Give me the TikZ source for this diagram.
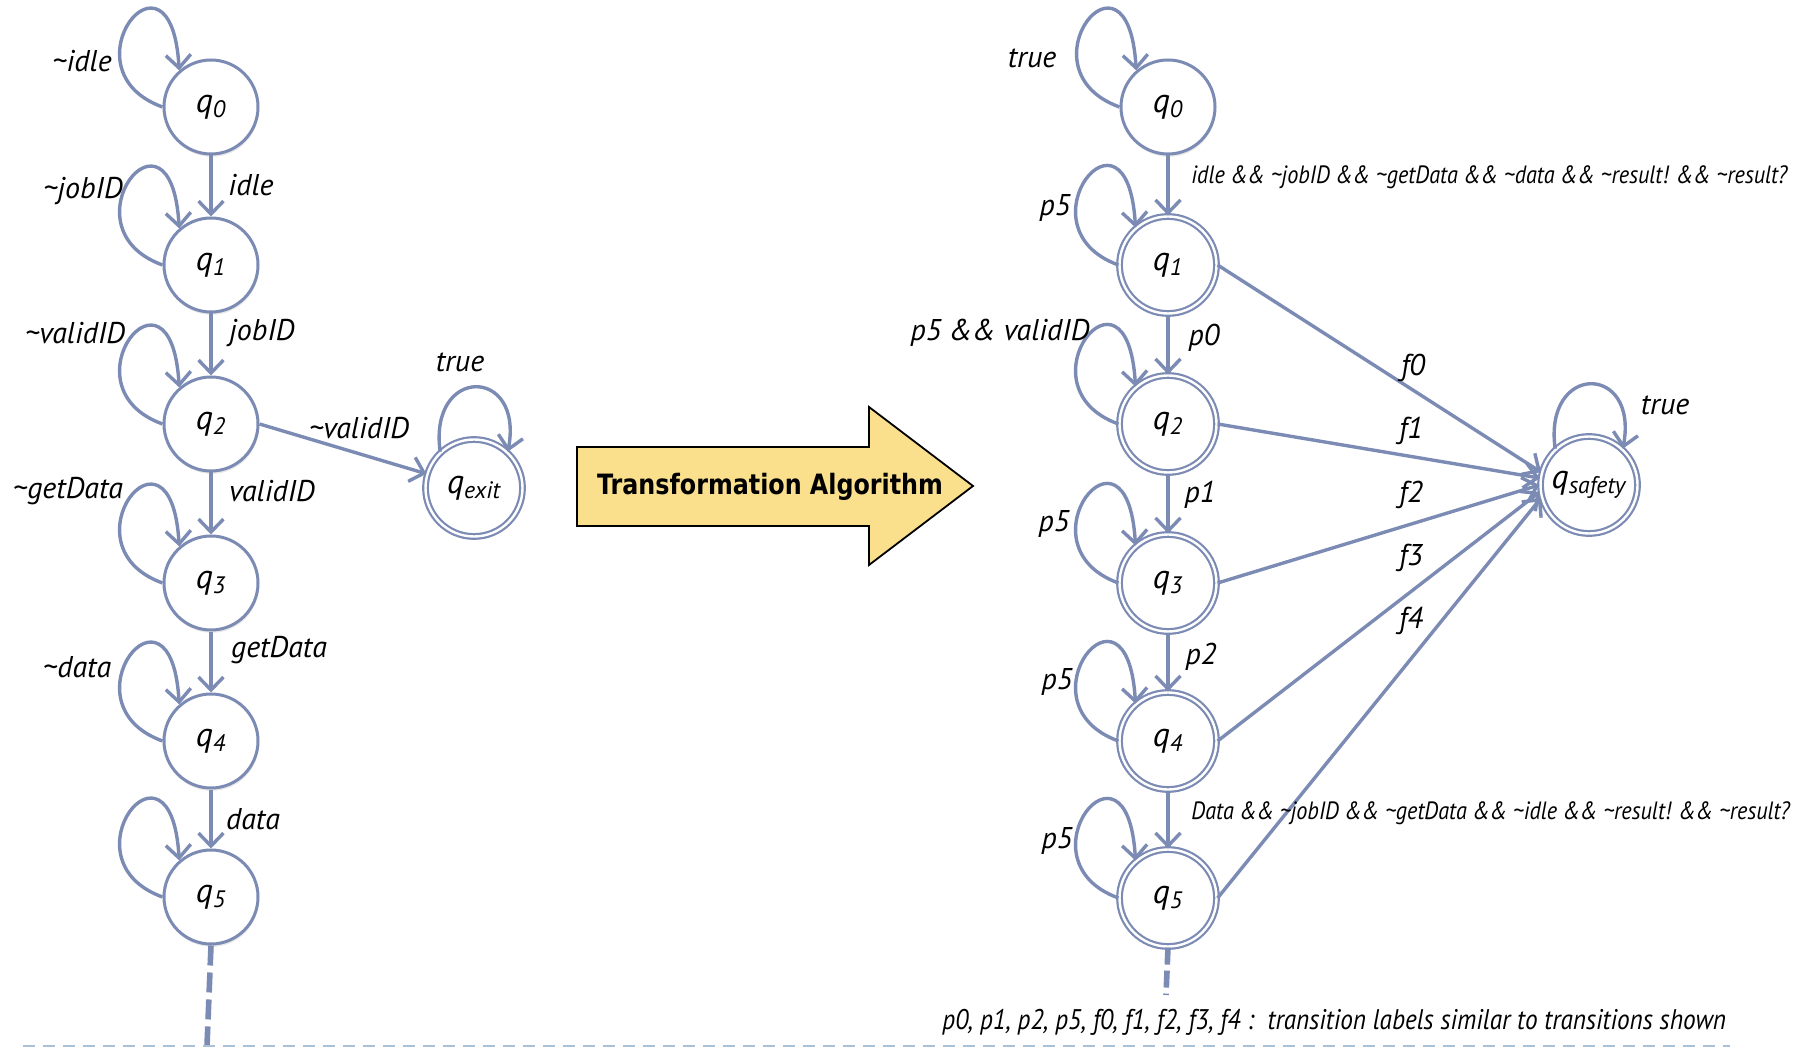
\documentclass[tikz,border=0pt]{standalone}
\usepackage{fontspec}
\setmainfont{PT Sans}
\newfontfamily\narrowfont{PT Sans}[FakeStretch=0.89]
\newfontfamily\algfont{DejaVu Sans}[FakeStretch=0.85]
\usetikzlibrary{arrows.meta,shadows}

\definecolor{edgeblue}{RGB}{124,139,180}
\definecolor{algfill}{RGB}{250,223,140}
\definecolor{rulecol}{RGB}{170,192,216}

\tikzset{
  state/.style={circle, draw=edgeblue, line width=1.5pt, fill=white,
    minimum size=47pt, inner sep=0pt, font=\fontsize{17}{19}\selectfont\itshape,
    drop shadow={opacity=0.18, shadow xshift=0.4pt, shadow yshift=-1.4pt}},
  accept/.style={state, line width=1.1pt, double=white, double distance=1.2pt,
    minimum size=48.5pt},
  edge/.style={draw=edgeblue, line width=1.7pt,
    -{Straight Barb[length=6.5pt, width=12.5pt]}},
  tail/.style={draw=edgeblue, line width=2.8pt},
  lbl/.style={font=\fontsize{15}{17}\selectfont\itshape, inner sep=0pt},
  small/.style={font=\narrowfont\fontsize{12.5}{14}\selectfont\itshape, inner sep=0pt, anchor=west},
}

% self loop on the upper left of a state
\newcommand\leftloop[1]{\draw[edge] (#1.180) .. controls +(-102,-37) and +(-8,-140) .. (#1.131);}
% self loop on top of a state
\newcommand\toploop[1]{\draw[edge] (#1.133) .. controls +(-12,-86) and +(16,-86) .. (#1.47);}

\begin{document}
\begin{tikzpicture}[x=0.5pt, y=-0.5pt]
\useasboundingbox (0,0) rectangle (1813,1052);

% ---------- original automaton ----------
\node[state] (L0) at (211,107) {q\textsubscript{0}};
\node[state] (L1) at (211,265) {q\textsubscript{1}};
\node[state] (L2) at (211,424) {q\textsubscript{2}};
\node[state] (L3) at (211,583) {q\textsubscript{3}};
\node[state] (L4) at (211,741) {q\textsubscript{4}};
\node[state] (L5) at (211,897) {q\textsubscript{5}};
\node[accept] (Lx) at (474,488) {q\textsubscript{exit}};

\foreach \n in {L0,L1,L2,L3,L4,L5} {\leftloop{\n}}
\toploop{Lx}

\draw[edge] (L0) -- (L1);
\draw[edge] (L1) -- (L2);
\draw[edge] (L2) -- (L3);
\draw[edge] (L3) -- (L4);
\draw[edge] (L4) -- (L5);
\draw[edge] (L2.east) -- (Lx);
\coordinate (Lend) at (207,1046);
\draw[tail, dash pattern=on 10pt off 3.5pt] (L5.south) -- (Lend);

\node[lbl] (l0) at (82,61) {\char`\~idle};
\node[lbl] (l1) at (251,185) {idle};
\node[lbl] (l2) at (83,191) {\char`\~jobID};
\node[lbl] (l3) at (262,333) {jobID};
\node[lbl] (l4) at (75,333) {\char`\~validID};
\node[lbl] (l5) at (359,428) {\char`\~validID};
\node[lbl] (l6) at (460,362) {true};
\node[lbl] (l7) at (272,491) {validID};
\node[lbl] (l8) at (68,491) {\char`\~getData};
\node[lbl] (l9) at (279,650) {getData};
\node[lbl] (l10) at (77,667) {\char`\~data};
\node[lbl] (l11) at (253,819) {data};

% ---------- transformation arrow ----------
\draw[fill=algfill, draw=black, line width=0.9pt]
  (577,447) -- (869,447) -- (869,407) -- (973,486) -- (869,565)
  -- (869,526) -- (577,526) -- cycle;
\node (alg) at (770,487) {\algfont\bfseries\fontsize{14}{16}\selectfont Transformation Algorithm};

% ---------- safety automaton ----------
\node[state]  (R0) at (1168,107) {q\textsubscript{0}};
\node[accept] (R1) at (1168,265) {q\textsubscript{1}};
\node[accept] (R2) at (1168,424) {q\textsubscript{2}};
\node[accept] (R3) at (1168,583) {q\textsubscript{3}};
\node[accept] (R4) at (1168,741) {q\textsubscript{4}};
\node[accept] (R5) at (1168,898) {q\textsubscript{5}};
\node[accept] (Rs) at (1589,485) {q\textsubscript{safety}};

\foreach \n in {R0,R1,R2,R3,R4,R5} {\leftloop{\n}}
\toploop{Rs}

\draw[edge] (R0) -- (R1);
\draw[edge] (R1) -- (R2);
\draw[edge] (R2) -- (R3);
\draw[edge] (R3) -- (R4);
\draw[edge] (R4) -- (R5);
\draw[edge] (R1.east) -- (Rs.165);
\draw[edge] (R2.east) -- (Rs.172);
\draw[edge] (R3.east) -- (Rs.180);
\draw[edge] (R4.east) -- (Rs.188);
\draw[edge] (R5.east) -- (Rs.195);
\coordinate (Rend) at (1166,995);
\draw[tail, dash pattern=on 8.5pt off 3pt] (R5.south) -- (Rend);

\node[lbl] (r0) at (1032,58) {true};
\node[lbl] (r1) at (1055,208) {p5};
\node[lbl] (r2) at (1000,333) {p5 \&\& validID};
\node[lbl] (r3) at (1204,338) {p0};
\node[lbl] (r4) at (1200,495) {p1};
\node[lbl] (r5) at (1054,524) {p5};
\node[lbl] (r6) at (1201,657) {p2};
\node[lbl] (r7) at (1057,682) {p5};
\node[lbl] (r8) at (1057,841) {p5};
\node[lbl] (r9) at (1665,405) {true};
\node[lbl] (f0) at (1413,368) {f0};
\node[lbl] (f1) at (1411,431) {f1};
\node[lbl] (f2) at (1411,495) {f2};
\node[lbl] (f3) at (1411,558) {f3};
\node[lbl] (f4) at (1411,621) {f4};

\node[small] (top) at (1191,177)
  {idle \&\& \char`\~jobID \&\& \char`\~getData \&\& \char`\~data \&\& \char`\~result! \&\& \char`\~result?};
\node[small] (bot) at (1191,813)
  {Data \&\& \char`\~jobID \&\& \char`\~getData \&\& \char`\~idle \&\& \char`\~result! \&\& \char`\~result?};

\node[small, font=\narrowfont\fontsize{14.2}{16}\selectfont\itshape] (note) at (942,1022)
  {p0, p1, p2, p5, f0, f1, f2, f3, f4 :\ \ transition labels similar to transitions shown};

% ---------- slide rule ----------
\draw[rulecol, line width=1pt, dash pattern=on 6pt off 4pt] (23,1046) -- (1730,1046);
\end{tikzpicture}
\end{document}
